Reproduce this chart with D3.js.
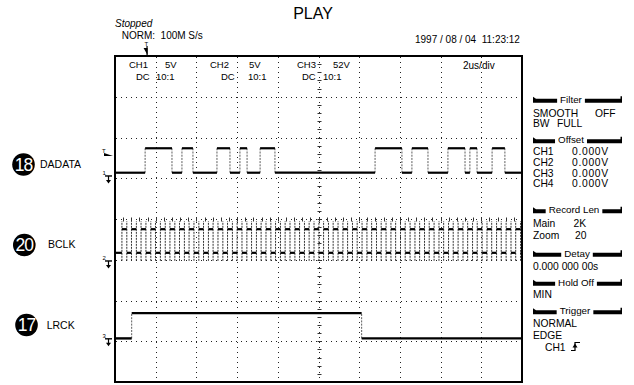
<!DOCTYPE html>
<html><head><meta charset="utf-8">
<script src="https://cdn.jsdelivr.net/npm/d3@7"></script>
<style>
html,body{margin:0;padding:0;background:#fff;}
svg{display:block;font-family:"Liberation Sans",Arial,sans-serif;}
</style></head><body>
<svg id="c" width="634" height="385"></svg>
<script>
// ---------- data ----------
const timeDomain = [0, 20];          // µs (2 µs/div x 10 div)
const divDomain = [-4, 4];           // vertical divisions
const channelNames = ["CH1", "CH2", "CH3"];
const channelScales = ["5V", "5V", "52V"];
const channelCoupling = ["DC", "DC", "DC"];
const channelProbe = ["10:1", "10:1", "10:1"];
const voltsPerDiv = [5, 5, 5];
const groundDiv = [1.056, -1.03, -2.94];
const signalNames = ["DADATA", "BCLK", "LRCK"];
const pinNumbers = ["18", "20", "17"];
const dadataLevels = [0.4, 3.4];     // V low / high
const dadataEdges = [1.48, 2.80, 3.29, 3.83, 5.01, 5.65, 6.14, 6.49, 7.13, 7.86,
                     12.78, 14.10, 14.59, 15.38, 16.36, 17.20, 17.44, 17.79, 18.53, 19.16];
const bclkLevels = [1.0, 3.9];
const bclkEdges = [0.34, 0.58, 0.81, 1.05, 1.28, 1.52, 1.76, 1.99, 2.23, 2.47, 2.70, 2.94,
  3.17, 3.41, 3.64, 3.88, 4.12, 4.35, 4.59, 4.82, 5.06, 5.30, 5.53, 5.77, 6.00, 6.24,
  6.48, 6.71, 6.95, 7.18, 7.42, 7.66, 7.89, 8.13, 8.36, 8.60, 8.84, 9.07, 9.31, 9.54,
  9.78, 10.02, 10.25, 10.49, 10.72, 10.96, 11.20, 11.43, 11.67, 11.90, 12.14, 12.38,
  12.61, 12.85, 13.08, 13.32, 13.56, 13.79, 14.03, 14.26, 14.50, 14.74, 14.97, 15.21,
  15.44, 15.68, 15.92, 16.15, 16.39, 16.62, 16.86, 17.10, 17.33, 17.57, 17.80, 18.04,
  18.28, 18.51, 18.75, 18.98, 19.22, 19.46, 19.69, 19.93];
const lrckLevels = [0.05, 3.15];
const lrckEdges = [0.82, 12.12];
const triggerTime = 1.55;
const triggerLevelV = 2.7;
const titleText = "PLAY";
const statusText = "Stopped";
const modeText = "NORM:  100M S/s";
const dateText = "1997 / 08 / 04  11:23:12";
const timebaseText = "2us/div";
const filterRows = [["SMOOTH", "OFF"], ["BW", "FULL"]];
const offsetRows = [["CH1", "0.000V"], ["CH2", "0.000V"], ["CH3", "0.000V"], ["CH4", "0.000V"]];
const recordRows = [["Main", "2K"], ["Zoom", "20"]];
const delayText = "0.000 000 00s";
const holdOffText = "MIN";
const triggerRows = ["NORMAL", "EDGE", "CH1"];
const headerNames = ["Filter", "Offset", "Record Len", "Detay", "Hold Off", "Trigger"];

// ---------- scales ----------
const svg = d3.select("#c");
const x = d3.scaleLinear().domain(timeDomain).range([115, 522]);
const yDiv = d3.scaleLinear().domain(divDomain).range([382, 56]);
const yV = (ch, v) => yDiv(groundDiv[ch] + v / voltsPerDiv[ch]);

// ---------- grid ----------
const grid = svg.append("g");
const xt = x.ticks(10).filter(t => t > timeDomain[0] && t < timeDomain[1]);
const yt = yDiv.ticks(8).filter(t => t > divDomain[0] && t < divDomain[1]);
grid.selectAll("line.v").data(xt).enter().append("line")
  .attr("x1", d => Math.round(x(d)) + 0.5).attr("x2", d => Math.round(x(d)) + 0.5)
  .attr("y1", 57).attr("y2", 381)
  .attr("stroke", "#222").attr("stroke-width", 1).attr("stroke-dasharray", "1,4");
grid.selectAll("line.h").data(yt).enter().append("line")
  .attr("y1", d => Math.round(yDiv(d)) + 0.5).attr("y2", d => Math.round(yDiv(d)) + 0.5)
  .attr("x1", 116).attr("x2", 521)
  .attr("stroke", "#222").attr("stroke-width", 1).attr("stroke-dasharray", "1,4");
// centre rulers
const cx = Math.round(x(10)) + 0.5, cy = Math.round(yDiv(0)) + 0.5;
const vMinor = d3.range(-20, 21).map(k => k * 0.2);
grid.selectAll("line.vm").data(vMinor).enter().append("line")
  .attr("x1", cx - 2).attr("x2", cx + 2)
  .attr("y1", d => Math.round(yDiv(d)) + 0.5).attr("y2", d => Math.round(yDiv(d)) + 0.5)
  .attr("stroke", "#333").attr("stroke-width", 1);
const hMinor = d3.range(1, 50).map(k => k * 0.4);
grid.selectAll("line.hm").data(hMinor).enter().append("line")
  .attr("y1", cy - 2).attr("y2", cy + 2)
  .attr("x1", d => Math.round(x(d)) + 0.5).attr("x2", d => Math.round(x(d)) + 0.5)
  .attr("stroke", "#333").attr("stroke-width", 1);

// ---------- traces ----------
function segments(edges, t0, t1, startLevel) {
  const segs = []; let lv = startLevel; let prev = t0;
  edges.forEach(e => { segs.push({a: prev, b: e, lv}); lv = 1 - lv; prev = e; });
  segs.push({a: prev, b: t1, lv});
  return segs;
}
function drawTrace(ch, edges, levels, thick, edgeExt, edgeW, edgeDash) {
  const g = svg.append("g");
  const segs = segments(edges, timeDomain[0], timeDomain[1], 0);
  g.selectAll("line.e").data(edges).enter().append("line")
    .attr("x1", d => x(d)).attr("x2", d => x(d))
    .attr("y1", yV(ch, levels[0]) + edgeExt).attr("y2", yV(ch, levels[1]) - edgeExt)
    .attr("stroke", "#333").attr("stroke-width", edgeW).attr("stroke-dasharray", edgeDash);
  g.selectAll("line.s").data(segs).enter().append("line")
    .attr("x1", d => x(d.a)).attr("x2", d => x(d.b))
    .attr("y1", d => yV(ch, levels[d.lv])).attr("y2", d => yV(ch, levels[d.lv]))
    .attr("stroke", "#000").attr("stroke-width", thick);
}
drawTrace(0, dadataEdges, dadataLevels, 2.2, 0, 0.8, "2,1.2");
drawTrace(1, bclkEdges, bclkLevels, 2.2, 8, 1, "2,1");
drawTrace(2, lrckEdges, lrckLevels, 2.4, 0, 0.8, "2,1.2");

// ---------- frame ----------
svg.append("rect").attr("x", 115).attr("y", 56).attr("width", 407).attr("height", 326)
  .attr("fill", "none").attr("stroke", "#000").attr("stroke-width", 2);

// ---------- ground & trigger markers ----------
channelNames.forEach((c, i) => {
  const gy = yV(i, 0);
  svg.append("text").attr("x", 102.5).attr("y", gy - 1).attr("font-size", 6).text(String(i + 1));
  svg.append("line").attr("x1", 105).attr("x2", 112).attr("y1", gy).attr("y2", gy)
    .attr("stroke", "#000").attr("stroke-width", 1.4);
  svg.append("line").attr("x1", 108.5).attr("x2", 108.5).attr("y1", gy).attr("y2", gy + 5)
    .attr("stroke", "#000").attr("stroke-width", 1.2);
  svg.append("path").attr("d", `M106,${gy + 4}L111,${gy + 4}L108.5,${gy + 7.5}Z`).attr("fill", "#000");
});
const ty = yV(0, triggerLevelV);
svg.append("text").attr("x", 102).attr("y", ty - 1).attr("font-size", 6).text("T");
svg.append("path").attr("d", `M104,${ty - 1}L113,${ty + 2}L104,${ty + 2}Z`).attr("fill", "#000");
const tx = x(triggerTime);
svg.append("text").attr("x", tx - 2).attr("y", 46).attr("font-size", 6).text("T");
svg.append("path").attr("d", `M${tx - 3},48L${tx + 1},48L${tx + 1},55Z`).attr("fill", "#000");
svg.append("line").attr("x1", tx + 0.5).attr("x2", tx + 0.5).attr("y1", 46).attr("y2", 55)
  .attr("stroke", "#000").attr("stroke-width", 1.2);

// ---------- header texts ----------
svg.append("text").attr("x", 313).attr("y", 18.5).attr("text-anchor", "middle")
  .attr("font-size", 16).text(titleText);
svg.append("text").attr("x", 115).attr("y", 26.7).attr("font-size", 10)
  .attr("font-style", "italic").text(statusText);
svg.append("text").attr("x", 121.7).attr("y", 39).attr("font-size", 10)
  .style("white-space", "pre").text(modeText);
svg.append("text").attr("x", 415).attr("y", 43.3).attr("font-size", 10)
  .style("white-space", "pre").text(dateText);
svg.append("text").attr("x", 463).attr("y", 68.5).attr("font-size", 10).text(timebaseText);

const chX = [[129, 165, 136, 156], [210, 249, 221, 248], [297, 333, 302, 323]];
channelNames.forEach((c, i) => {
  const p = chX[i];
  svg.append("text").attr("x", p[0]).attr("y", 68.3).attr("font-size", 9.5).text(c);
  svg.append("text").attr("x", p[1]).attr("y", 68.3).attr("font-size", 9.5).text(channelScales[i]);
  svg.append("text").attr("x", p[2]).attr("y", 80).attr("font-size", 9.5).text(channelCoupling[i]);
  svg.append("text").attr("x", p[3]).attr("y", 80).attr("font-size", 9.5).text(channelProbe[i]);
});

// ---------- left labels ----------
const circ = [[23.5, 164.5, 40, 167.8], [24.3, 245, 48, 248.3], [26.5, 325, 46.7, 328.5]];
signalNames.forEach((s, i) => {
  const p = circ[i];
  svg.append("circle").attr("cx", p[0]).attr("cy", p[1]).attr("r", 11.3).attr("fill", "#000");
  svg.append("text").attr("x", p[0]).attr("y", p[1] + 6.2).attr("text-anchor", "middle")
    .attr("font-size", 17.5).attr("letter-spacing", -1).attr("fill", "#fff").text(pinNumbers[i]);
  svg.append("text").attr("x", p[2]).attr("y", p[3]).attr("font-size", 10.5).text(s);
});

// ---------- right panel ----------
const panel = svg.append("g").attr("font-size", 10.3);
const headerPos = [[571, 102.7], [571, 143.3], [574, 213.3], [577, 256.7], [576, 285.7], [575, 314.3]];
headerNames.forEach((h, i) => {
  const [hc, hb] = headerPos[i];
  const t = panel.append("text").attr("x", hc).attr("y", hb).attr("text-anchor", "middle")
    .attr("font-size", 9.8).text(h);
  const w = t.node().getComputedTextLength();
  const l1 = hc - w / 2 - 3, r0 = hc + w / 2 + 3;
  const L = 533, R = 622;
  panel.append("path").attr("d",
    `M${L},${hb - 6}L${L + 3},${hb - 4}L${l1},${hb - 4}L${l1},${hb}L${L},${hb}Z`).attr("fill", "#000");
  panel.append("path").attr("d",
    `M${r0},${hb - 4}L${R - 1.5},${hb - 4}L${R - 1.5},${hb - 6.5}L${R},${hb - 6.5}L${R},${hb}L${r0},${hb}Z`)
    .attr("fill", "#000");
});
const rowText = (txt, px, py) => panel.append("text").attr("x", px).attr("y", py).text(txt);
rowText(filterRows[0][0], 533, 116.5); rowText(filterRows[0][1], 595, 116.5);
rowText(filterRows[1][0], 533, 127); rowText(filterRows[1][1], 557, 127);
offsetRows.forEach((r, i) => {
  const py = 155 + i * 10.8;
  rowText(r[0], 533, py);
  rowText(r[1], 572, py).attr("letter-spacing", 0.7);
});
rowText(recordRows[0][0], 533, 227.3); rowText(recordRows[0][1], 573.5, 227.3);
rowText(recordRows[1][0], 533, 239.3); rowText(recordRows[1][1], 575, 239.3);
rowText(delayText, 533, 270);
rowText(holdOffText, 533, 298.3);
rowText(triggerRows[0], 533, 327.3);
rowText(triggerRows[1], 533, 339);
rowText(triggerRows[2], 545, 351);
panel.append("path").attr("d", "M571,350.5H575V342.5H580").attr("fill", "none")
  .attr("stroke", "#000").attr("stroke-width", 1.2);
panel.append("path").attr("d", "M572.5,347.5L577.5,347.5L575,343.5Z").attr("fill", "#000");
</script>
</body></html>
